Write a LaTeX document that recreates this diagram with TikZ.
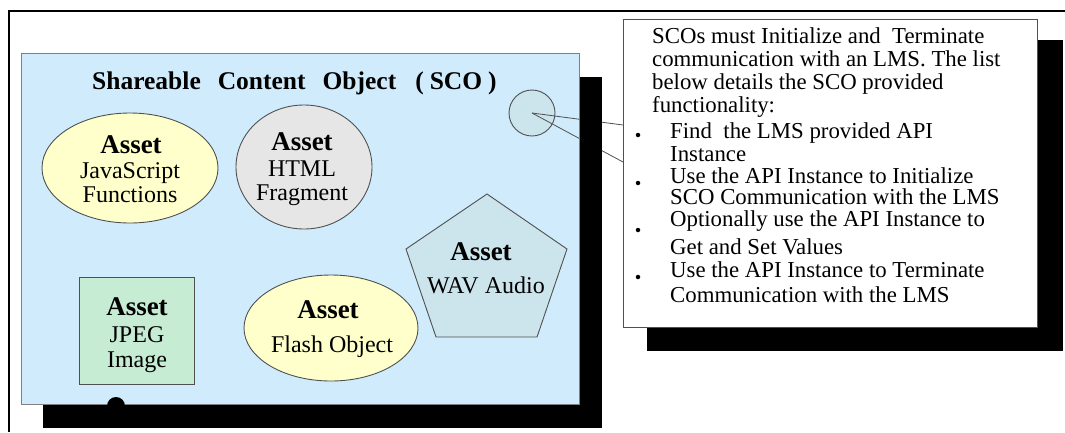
\documentclass[tikz,border=0pt]{standalone}
\usepackage{fontspec}
\setmainfont{Liberation Serif}
\usetikzlibrary{shapes.geometric}
\definecolor{scoblue}{RGB}{208,236,252}
\definecolor{asyellow}{RGB}{255,255,204}
\definecolor{asgray}{RGB}{230,230,230}
\definecolor{asteal}{RGB}{204,228,236}
\definecolor{asgreen}{RGB}{198,236,212}
\definecolor{edgegray}{RGB}{80,80,80}
\newcommand{\assetfont}{\fontsize{27}{27}\selectfont\bfseries}
\begin{document}
\begin{tikzpicture}[x=1pt,y=-1pt,
  assetshape/.style={draw=edgegray, line width=0.9pt, inner sep=0pt},
  lbl/.style={font=\fontsize{24}{25}\selectfont, inner sep=0pt, anchor=base},
  albl/.style={font=\assetfont, inner sep=0pt, anchor=base},
  notetext/.style={font=\fontsize{22.8}{23}\selectfont, inner sep=0pt, anchor=base west},
  bul/.style={circle, fill=black, inner sep=0pt, minimum size=4.5pt},
  link/.style={draw=edgegray, line width=0.8pt}]

\useasboundingbox (0,0) rectangle (1065,432);
\draw[line width=1.5pt] (9,432) -- (9,11) -- (1065,11);

% SCO container with shadow
\fill[black] (43,77) rectangle (602,428);
\node[draw=gray, line width=1.2pt, fill=scoblue, minimum width=558pt, minimum height=351pt,
      inner sep=0pt, anchor=north west] (sco) at (21,53) {};
\begin{scope}
  \clip (100,390) rectangle (135,405);
  \fill[black] (116,406) circle (9pt);
\end{scope}

\node[font=\fontsize{25.5}{26}\selectfont\bfseries, anchor=base west, inner sep=0pt] (title) at (92,89)
  {Shareable\hspace{17pt}Content\hspace{17pt}Object\hspace{19pt}(\hspace{6pt}SCO\hspace{6pt})};

% assets
\node[assetshape, ellipse, fill=asyellow, minimum width=176pt, minimum height=110pt] (js) at (130,168) {};
\node[assetshape, ellipse, fill=asgray, minimum width=136pt, minimum height=124pt] (html) at (304,167) {};
\node[assetshape, ellipse, fill=asyellow, minimum width=174pt, minimum height=106pt] (flash) at (331,328) {};
\node[assetshape, rectangle, fill=asgreen, minimum width=115pt, minimum height=107pt, anchor=north west] (jpeg) at (79,277) {};
\filldraw[draw=edgegray, line width=0.9pt, fill=asteal] (487,194) -- (567,249) -- (537,337) -- (436,337) -- (406,249) -- cycle;
\node[assetshape, circle, fill=asteal, minimum size=46pt] (dot) at (532,113) {};

\node[albl] (jsa) at (131,153) {Asset};
\node[lbl] (jsb) at (130,178) {JavaScript};
\node[lbl] (jsc) at (130,202) {Functions};

\node[albl] (htmla) at (302,150) {Asset};
\node[lbl] (htmlb) at (302,176) {HTML};
\node[lbl] (htmlc) at (302,200) {Fragment};

\node[albl] (wava) at (481,260) {Asset};
\node[lbl] (wavb) at (486,293) {WAV Audio};

\node[albl] (jpega) at (137,315) {Asset};
\node[lbl] (jpegb) at (137,342) {JPEG};
\node[lbl] (jpegc) at (137,367) {Image};

\node[albl] (flasha) at (328,318) {Asset};
\node[lbl] (flashb) at (332,352) {Flash Object};

% callout
\fill[black] (647,40) rectangle (1063,351);
\coordinate (e1) at (623,125);
\coordinate (e2) at (623,162);
\begin{scope}
  \clip (0,0) rectangle (579,432) (602,0) rectangle (1065,432) (579,0) rectangle (602,77);
  \draw[link] (dot.center) -- (e1);
  \draw[link] (dot.center) -- (e2);
\end{scope}
\node[draw=edgegray, line width=1pt, fill=white, minimum width=414pt, minimum height=308pt,
      inner sep=0pt, anchor=north west] (callout) at (623,19) {};

\node[notetext] (p1) at (652,43) {SCOs must Initialize and \ Terminate};
\node[notetext] (p2) at (652,66) {communication with an LMS. The list};
\node[notetext] (p3) at (652,89) {below details the SCO provided};
\node[notetext] (p4) at (652,112) {functionality:};

\node[bul] (b1) at (638,135) {};
\node[bul] (b2) at (638,183) {};
\node[bul] (b3) at (638,230) {};
\node[bul] (b4) at (638,277) {};

\node[notetext] (i1a) at (670,138) {Find \ the LMS provided API};
\node[notetext] (i1b) at (670,161) {Instance};
\node[notetext] (i2a) at (670,183) {Use the API Instance to Initialize};
\node[notetext] (i2b) at (670,204) {SCO Communication with the LMS};
\node[notetext] (i3a) at (670,226) {Optionally use the API Instance to};
\node[notetext] (i3b) at (670,254) {Get and Set Values};
\node[notetext] (i4a) at (670,277) {Use the API Instance to Terminate};
\node[notetext] (i4b) at (670,302) {Communication with the LMS};
\end{tikzpicture}
\end{document}
